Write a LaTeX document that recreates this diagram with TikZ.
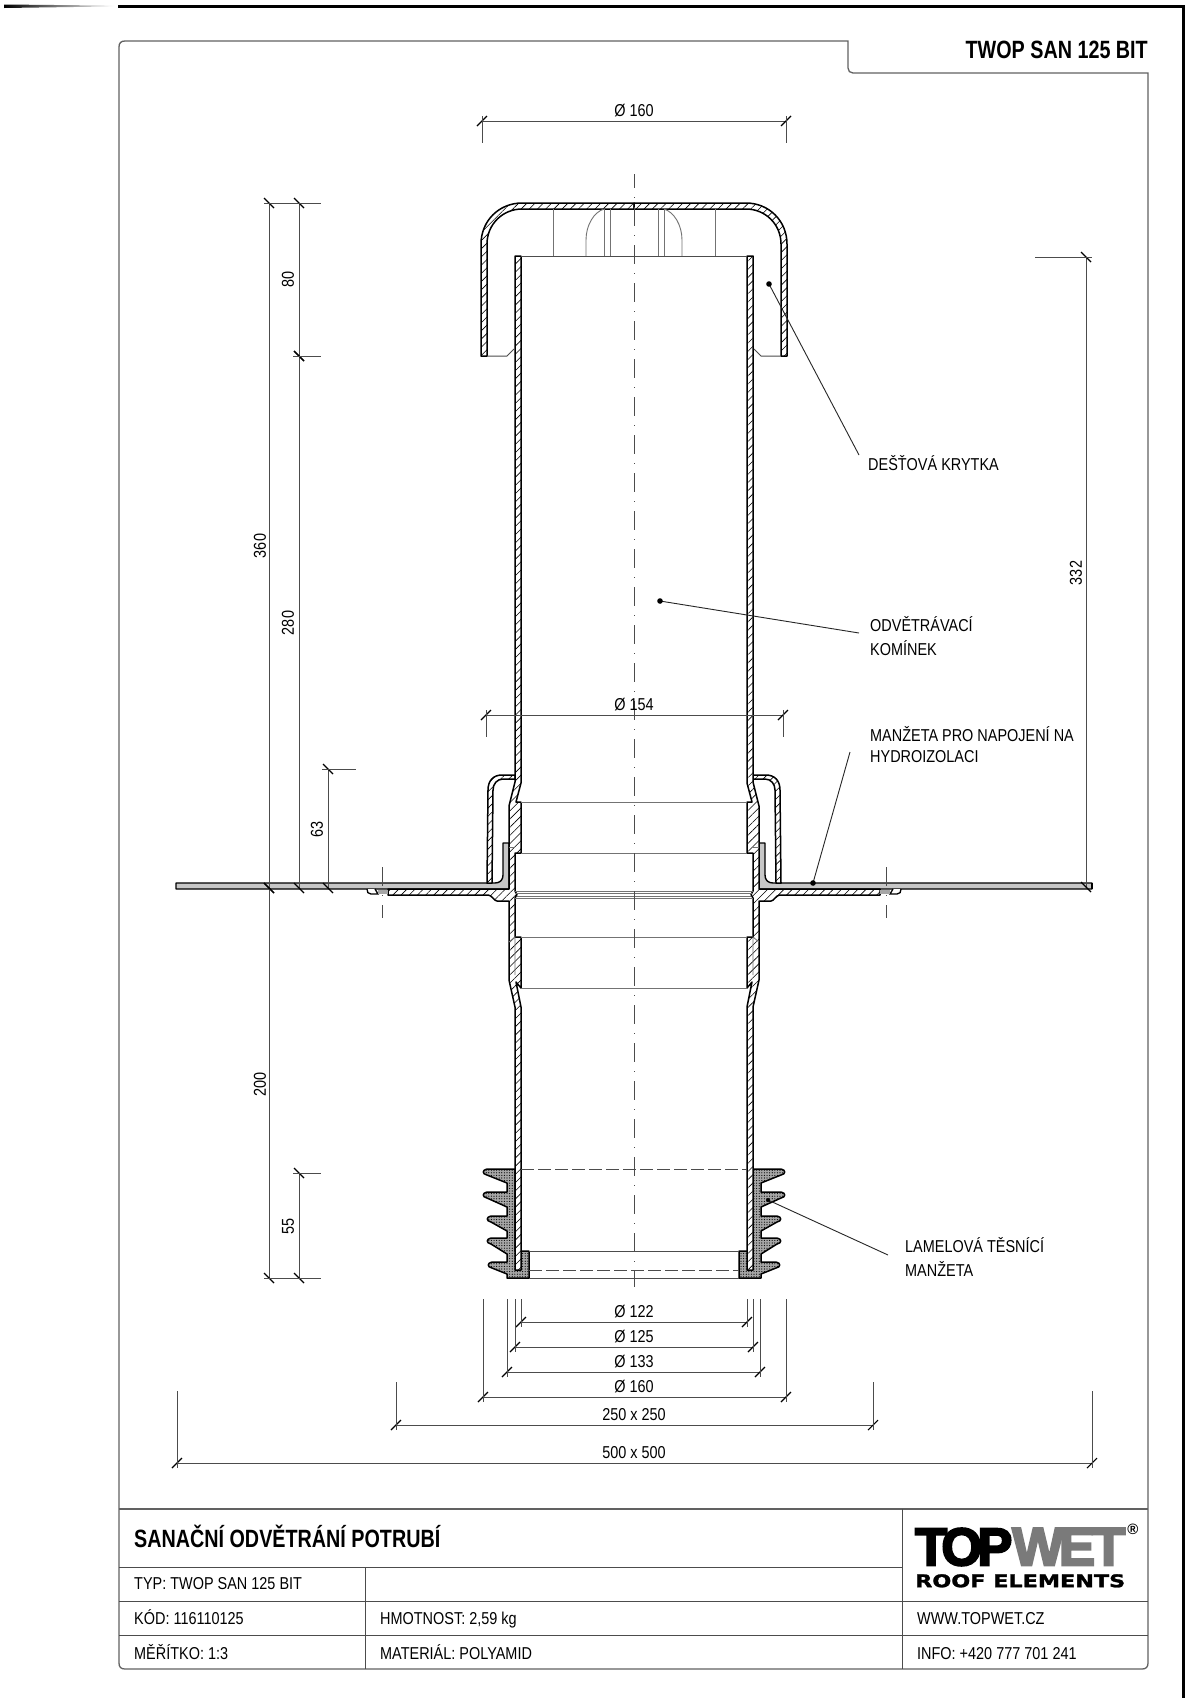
\documentclass[tikz,border=0pt]{standalone}
\usepackage{fontspec}
\usepackage{graphicx}
\usetikzlibrary{patterns.meta}
\setmainfont{Liberation Sans}
\newfontfamily\nar[FakeStretch=0.84]{Liberation Sans}
\newfontfamily\narb[FakeStretch=0.79]{Liberation Sans Bold}
\newfontfamily\logofont[FakeBold=4]{Liberation Sans Bold}
\newfontfamily\logowide[FakeBold=1.5]{DejaVu Sans Bold}
\tikzset{
  lab/.style={inner sep=0pt,font=\nar\fontsize{17.2}{20}\selectfont,text=black},
  dimln/.style={draw=black!70,line width=0.9pt},
  tickln/.style={draw=black,line width=1.1pt},
  frameln/.style={draw=black!62,line width=1.3pt},
  wall/.style={draw=black,line width=1.5pt,line join=round,pattern={Lines[angle=45,distance=5.8pt,line width=.6pt]}},
  stip/.style={fill=black!22,draw=black,line width=1.4pt,line join=round},
  fine/.style={draw=black!55,line width=0.9pt},
  inner/.style={draw=black!70,line width=1pt},
}
\newcommand{\hw}[1]{\fill[white] #1; \draw[wall] #1;}
\newcommand{\dimH}[4]{% name x1 x2 y
  \coordinate (#1a) at (#2,#4); \coordinate (#1b) at (#3,#4);
  \draw[dimln] (#1a) -- (#1b);
  \draw[tickln] ([shift={(-5,5)}]#1a) -- ([shift={(5,-5)}]#1a);
  \draw[tickln] ([shift={(-5,5)}]#1b) -- ([shift={(5,-5)}]#1b);}
\newcommand{\dimV}[4]{% name x y1 y2
  \coordinate (#1a) at (#2,#3); \coordinate (#1b) at (#2,#4);
  \draw[dimln] (#1a) -- (#1b);
  \draw[tickln] ([shift={(-5,-5)}]#1a) -- ([shift={(5,5)}]#1a);
  \draw[tickln] ([shift={(-5,-5)}]#1b) -- ([shift={(5,5)}]#1b);}
\newcommand{\halfsec}{%
  % seal
  \fill[black!35] (515,1169) -- (487,1169) .. controls (482,1170) and (482,1174) .. (487,1175) -- (507,1183) -- (507,1192) -- (487,1192) .. controls (482,1193) and (482,1197) .. (487,1198) -- (507,1207) -- (507,1216) -- (491,1216) .. controls (486,1217) and (486,1221) .. (491,1222) -- (507,1231) -- (507,1238) -- (491,1238) .. controls (486,1239) and (486,1243) .. (491,1244) -- (507,1254) -- (507,1262) -- (492,1262) .. controls (487,1263) and (487,1267) .. (492,1268) -- (507,1274) -- (507,1278) -- (529,1278) -- (529,1251) -- (515,1251) -- cycle;
  \draw[draw=black,line width=1.5pt,line join=round,pattern={Dots[distance=2.6pt,radius=.6pt]},pattern color=black] (515,1169) -- (487,1169) .. controls (482,1170) and (482,1174) .. (487,1175) -- (507,1183) -- (507,1192) -- (487,1192) .. controls (482,1193) and (482,1197) .. (487,1198) -- (507,1207) -- (507,1216) -- (491,1216) .. controls (486,1217) and (486,1221) .. (491,1222) -- (507,1231) -- (507,1238) -- (491,1238) .. controls (486,1239) and (486,1243) .. (491,1244) -- (507,1254) -- (507,1262) -- (492,1262) .. controls (487,1263) and (487,1267) .. (492,1268) -- (507,1274) -- (507,1278) -- (529,1278) -- (529,1251) -- (515,1251) -- cycle;
  % grey collar and flange
  \draw[stip] (503,843) -- (509,843) -- (509,889) -- (176,889) -- (176,883) -- (495,883) .. controls (500,883) and (503,880) .. (503,875) -- cycle;
  % cuff
  \hw{(515,775) -- (502,775) .. controls (493,775) and (488,781) .. (488,790) -- (487,883) -- (492,883) -- (493,790) .. controls (493,784) and (497,779) .. (503,779) -- (515,779) -- cycle}
  % main hatched body: upper pipe, socket, flange, lower socket, lower pipe
  \hw{(515,256) -- (521,256) -- (521,783) -- (516,802) -- (521,802) -- (521,853) -- (515,853) -- (515,891) -- (517,894.5) -- (515,898) -- (515,937) -- (521,937) -- (521,988) -- (516,982) -- (521,1007) -- (521,1270) -- (515,1270) -- (515,1007) -- (509,980) -- (509,901) -- (497,901) .. controls (494,901) and (492,895) .. (488,895) -- (388,895) -- (388,889) -- (509,889) -- (509,806) -- (515,782) -- cycle}
  \draw[fine] (509,847) -- (515,847);
  \draw[fine] (509,942) -- (515,937) -- (515,975);
  % bolt clip
  \draw[line width=1.3pt,fill=white] (375,889) -- (378,894) -- (371,894) .. controls (368,894) and (367,892) .. (367,889);
  \fill[black!35] (378,890) -- (388,890) -- (388,894) -- (378,894) -- cycle;
  % cap
  \hw{(481,356) -- (481,244) .. controls (481,221) and (499,203) .. (522,203) -- (634,203) -- (634,209) -- (522,209) .. controls (503,209) and (487,224) .. (487,244) -- (487,356) -- cycle}
  \draw[inner] (487,356) -- (507,356) -- (514,349);
  % inner cap ribs
  \draw[fine] (553,209) -- (553,256);
  \draw[fine] (604,209) -- (604,256);
  \draw[fine] (610,209) -- (610,256);
  \draw[fine] (586,256) -- (586,240) .. controls (586,225) and (594,212) .. (604,209);
}
\begin{document}
\begin{tikzpicture}[x=1pt,y=-1pt]
\useasboundingbox (0,0) rectangle (1200,1698);
\fill[white] (0,0) rectangle (1200,1698);
% sheet border
\shade[left color=black,right color=white] (4,4.5) -- (115,5.6) -- (115,6.4) -- (4,8) -- cycle;
\draw[line width=3pt,line join=miter] (118,6) -- (1183,6) -- (1183,1698);
% frame
\draw[frameln] (125,41) -- (848,41) -- (848,68) .. controls (848,71) and (850,73) .. (853,73) -- (1148,73) -- (1148,1663) .. controls (1148,1667) and (1146,1669) .. (1142,1669) -- (125,1669) .. controls (121,1669) and (119,1667) .. (119,1663) -- (119,47) .. controls (119,43) and (121,41) .. (125,41) -- cycle;
% title table
\draw[frameln] (119,1509) -- (1148,1509);
\draw[inner] (119,1567) -- (902,1567);
\draw[inner] (119,1601) -- (1148,1601);
\draw[inner] (119,1635) -- (1148,1635);
\draw[inner] (365,1567) -- (365,1669);
\draw[inner] (902,1509) -- (902,1669);
% section
\halfsec
\begin{scope}[shift={(1268,0)},xscale=-1]
\halfsec
\end{scope}
% interior lines
\draw[inner] (521,256) -- (747,256);
\draw[fine] (521,802) -- (747,802);
\draw[fine] (521,853) -- (747,853);
\draw[fine] (515,891) -- (753,891);
\draw[fine] (515,893.5) -- (753,893.5);
\draw[fine] (517,896) -- (751,896);
\draw[fine] (515,898) -- (753,898);
\draw[fine] (521,937) -- (747,937);
\draw[fine] (521,988) -- (747,988);
\draw[inner,dash pattern=on 13pt off 4pt] (521,1169) -- (747,1169);
\draw[inner] (529,1251) -- (739,1251);
\draw[inner,dash pattern=on 13pt off 4pt] (529,1270) -- (739,1270);
\draw[inner] (529,1278) -- (739,1278);
% axes
\draw[fine,black!70,dash pattern=on 19pt off 9pt on 1pt off 9pt,dash phase=5pt] (634,174) -- (634,1287);
\draw[fine,black!70,dash pattern=on 19pt off 9pt on 1pt off 9pt] (382,867) -- (382,918);
\draw[fine,black!70,dash pattern=on 19pt off 9pt on 1pt off 9pt] (886,867) -- (886,918);
% dimensions: top
\dimH{dtop}{482}{786}{121}
\draw[dimln] (482,116) -- (482,143);
\draw[dimln] (786,116) -- (786,143);
\node[lab] (tdtop) at (634,111) {Ø 160};
% left dims
\dimV{dA}{269}{203}{888}
\dimV{dB}{269}{888}{1278}
\dimV{dC}{299}{203}{356}
\dimV{dD}{299}{356}{888}
\dimV{dE}{328}{769}{888}
\dimV{dF}{299}{1173}{1278}
\draw[dimln] (264,203) -- (321,203);
\draw[dimln] (293,356) -- (321,356);
\draw[dimln] (322,769) -- (356,769);
\draw[dimln] (293,1173) -- (321,1173);
\draw[dimln] (264,1278) -- (321,1278);
\node[lab,rotate=90] (t360) at (260,546) {360};
\node[lab,rotate=90] (t80) at (288,279) {80};
\node[lab,rotate=90] (t280) at (288,623) {280};
\node[lab,rotate=90] (t63) at (317,829) {63};
\node[lab,rotate=90] (t200) at (260,1084) {200};
\node[lab,rotate=90] (t55) at (288,1226) {55};
% right dim
\dimV{dR}{1086}{257}{887}
\draw[dimln] (1035,257) -- (1092,257);
\node[lab,rotate=90] (t332) at (1076,573) {332};
% flange end
\draw[draw=black,line width=1.5pt] (1092,883) -- (1092,889);
% dia 154
\dimH{dm}{486}{783}{715}
\draw[dimln] (486,710) -- (486,737);
\draw[dimln] (783,710) -- (783,737);
\node[lab] (tm) at (634,705) {Ø 154};
% lower dims
\dimH{dl}{521}{747}{1322}
\dimH{dk}{515}{753}{1347}
\dimH{dj}{507}{760}{1372}
\dimH{di}{483}{786}{1397}
\dimH{dh}{396}{873}{1425}
\dimH{dg}{177}{1092}{1463}
\foreach \xa/\yb in {521/1327,515/1352,507/1377,483/1402,747/1327,753/1352,760/1377,786/1402}{
  \draw[dimln] (\xa,1299) -- (\xa,\yb);}
\draw[dimln] (396,1382) -- (396,1430);
\draw[dimln] (873,1382) -- (873,1430);
\draw[dimln] (177,1391) -- (177,1468);
\draw[dimln] (1092,1391) -- (1092,1468);
\node[lab] (tl) at (634,1312) {Ø 122};
\node[lab] (tk) at (634,1337) {Ø 125};
\node[lab] (tj) at (634,1362) {Ø 133};
\node[lab] (ti) at (634,1387) {Ø 160};
\node[lab] (th) at (634,1415) {250 x 250};
\node[lab] (tg) at (634,1453) {500 x 500};
% leaders and labels
\tikzset{ldr/.style={draw=black!85,line width=0.9pt}}
\coordinate (la1) at (769,284); \coordinate (la2) at (859,455);
\draw[ldr] (la1) -- (la2); \fill (la1) circle[radius=2.8pt];
\node[lab,anchor=base west] (nkr) at (868,470) {DEŠŤOVÁ KRYTKA};
\coordinate (lb1) at (660,601); \coordinate (lb2) at (859,633);
\draw[ldr] (lb1) -- (lb2); \fill (lb1) circle[radius=2.8pt];
\node[lab,anchor=base west] (nod) at (870,631) {ODVĚTRÁVACÍ};
\node[lab,anchor=base west] (nko) at (870,655) {KOMÍNEK};
\coordinate (lc1) at (813,883); \coordinate (lc2) at (850,752);
\draw[ldr] (lc1) -- (lc2); \fill (lc1) circle[radius=2.8pt];
\node[lab,anchor=base west] (nma) at (870,741) {MANŽETA PRO NAPOJENÍ NA};
\node[lab,anchor=base west] (nhy) at (870,762) {HYDROIZOLACI};
\coordinate (ld1) at (768,1200); \coordinate (ld2) at (888,1255);
\draw[ldr] (ld1) -- (ld2); \fill (ld1) circle[radius=2pt];
\node[lab,anchor=base west] (nla) at (905,1252) {LAMELOVÁ TĚSNÍCÍ};
\node[lab,anchor=base west] (nmz) at (905,1276) {MANŽETA};
% titles
\node[inner sep=0pt,anchor=base east,font=\narb\fontsize{25}{28}\selectfont] (ttl) at (1148,58) {TWOP SAN 125 BIT};
\node[inner sep=0pt,anchor=base west,font=\narb\fontsize{25}{28}\selectfont] (sub) at (134,1547) {SANAČNÍ ODVĚTRÁNÍ POTRUBÍ};
\node[lab,anchor=base west] (c1) at (134,1589) {TYP: TWOP SAN 125 BIT};
\node[lab,anchor=base west] (c2) at (134,1624) {KÓD: 116110125};
\node[lab,anchor=base west] (c3) at (134,1659) {MĚŘÍTKO: 1:3};
\node[lab,anchor=base west] (c4) at (380,1624) {HMOTNOST: 2,59 kg};
\node[lab,anchor=base west] (c5) at (380,1659) {MATERIÁL: POLYAMID};
\node[lab,anchor=base west] (c6) at (917,1624) {WWW.TOPWET.CZ};
\node[lab,anchor=base west] (c7) at (917,1659) {INFO: +420 777 701 241};
% logo
\node[inner sep=0pt,anchor=north west] (lg1) at (915,1528) {\resizebox{97pt}{37pt}{\logofont T\kern-.11em O\kern-.09em P}};
\node[inner sep=0pt,anchor=north west,text=black!52] (lg2) at (1012,1528) {\resizebox{113pt}{37pt}{\logofont W\kern-.09em E\kern-.06em T}};
\node[inner sep=0pt,anchor=north west] (lg3) at (915,1574) {\resizebox{210pt}{13pt}{\logowide ROOF ELEMENTS}};
\node[inner sep=0pt,font=\fontsize{15}{15}\selectfont\bfseries] (lg4) at (1133,1529) {®};
\end{tikzpicture}
\end{document}
